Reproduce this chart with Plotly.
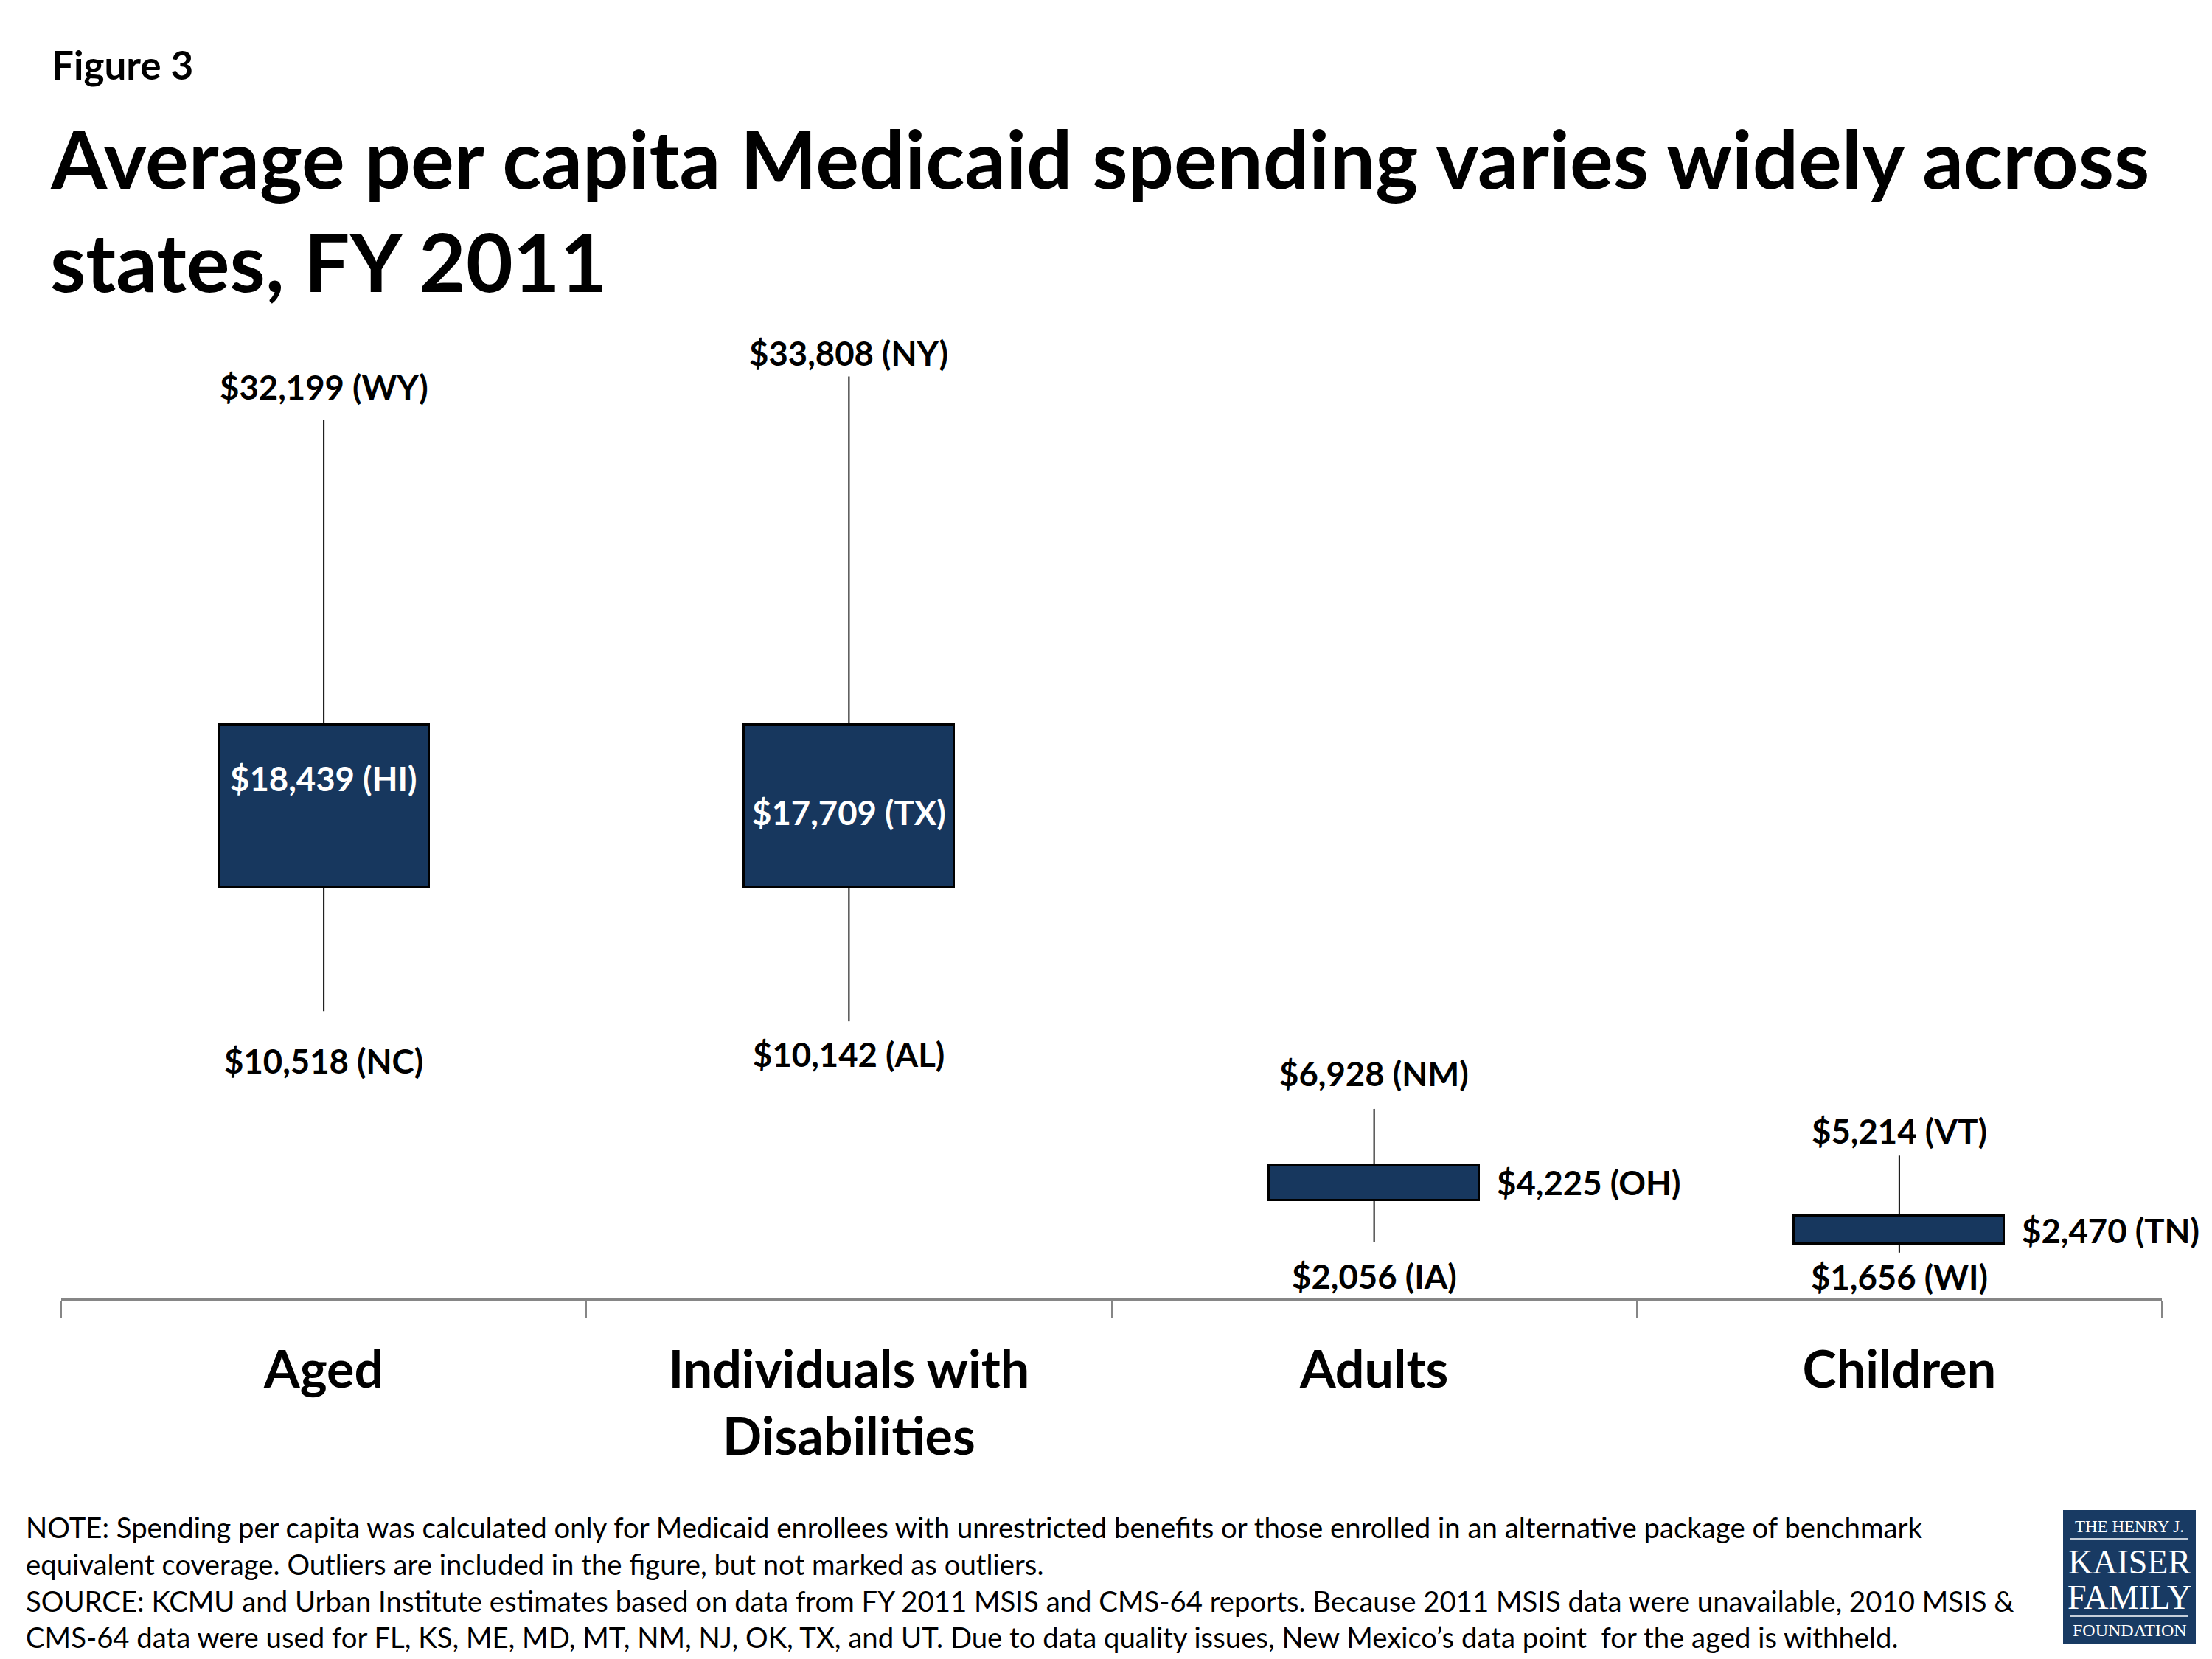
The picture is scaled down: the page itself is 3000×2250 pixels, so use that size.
import plotly.graph_objects as go

# ---------------- data ----------------
categories = ["Aged", "Individuals with<br>Disabilities", "Adults", "Children"]
max_vals = [32199, 33808, 6928, 5214]
max_states = ["WY", "NY", "NM", "VT"]
q3_vals = [21030, 21030, 4830, 3010]
mid_vals = [18439, 17709, 4225, 2470]
mid_states = ["HI", "TX", "OH", "TN"]
q1_vals = [15040, 15040, 3580, 1980]
min_vals = [10518, 10142, 2056, 1656]
min_states = ["NC", "AL", "IA", "WI"]

# ---------------- layout geometry (pixels) ----------------
W, H = 3000, 2250
PL, PR, PT, PB = 75, 2924, 400, 1752
YMAX = 36580
BOX_W = 0.4
NAVY = "#17375E"
FONT = "Lato"
LABEL_SIZE = 45.5


def px_x(px):
    return (px - PL) / (PR - PL)


def px_y(py):
    return (PB - py) / (PB - PT)


def money(v, st):
    return f"${v:,} ({st})"


fig = go.Figure()

# whiskers
wx, wy = [], []
for c, mx, q3, q1, mn in zip(categories, max_vals, q3_vals, q1_vals, min_vals):
    wx += [c, c, None, c, c, None]
    wy += [q3, mx, None, q1, mn, None]
fig.add_trace(go.Scatter(x=wx, y=wy, mode="lines",
                         line=dict(color="black", width=2),
                         hoverinfo="skip", showlegend=False))

# boxes
fig.add_trace(go.Bar(x=categories,
                     base=q1_vals,
                     y=[a - b for a, b in zip(q3_vals, q1_vals)],
                     width=BOX_W,
                     marker=dict(color=NAVY, line=dict(color="black", width=3)),
                     hoverinfo="skip", showlegend=False))

annotations = []
label_font = dict(family=FONT, size=LABEL_SIZE, color="black", weight="bold")

max_shift = [45, 32, 48, 34]
min_shift = [-67, -44, -46, -33]
mid_shift = [23, 4, 0, 0]
mid_inside = [True, True, False, False]

for i, c in enumerate(categories):
    annotations.append(dict(x=c, y=max_vals[i], xref="x", yref="y",
                            text=money(max_vals[i], max_states[i]),
                            showarrow=False, xanchor="center", yanchor="middle",
                            yshift=max_shift[i], font=label_font))
    annotations.append(dict(x=c, y=min_vals[i], xref="x", yref="y",
                            text=money(min_vals[i], min_states[i]),
                            showarrow=False, xanchor="center", yanchor="middle",
                            yshift=min_shift[i], font=label_font))
    if mid_inside[i]:
        annotations.append(dict(x=c, y=mid_vals[i], xref="x", yref="y",
                                text=money(mid_vals[i], mid_states[i]),
                                showarrow=False, xanchor="center", yanchor="middle",
                                yshift=mid_shift[i],
                                font=dict(family=FONT, size=LABEL_SIZE, color="white",
                                          weight="bold")))
    else:
        annotations.append(dict(x=c, y=mid_vals[i], xref="x", yref="y",
                                text=money(mid_vals[i], mid_states[i]),
                                showarrow=False, xanchor="left", yanchor="middle",
                                xshift=164, yshift=mid_shift[i], font=label_font))

# header texts
annotations.append(dict(x=px_x(60), y=px_y(80), xref="paper", yref="paper",
                        text="Figure 3", showarrow=False,
                        xanchor="left", yanchor="middle",
                        font=dict(family=FONT, size=53, color="black", weight="bold")))
annotations.append(dict(x=px_x(58), y=px_y(205), xref="paper", yref="paper",
                        text="Average per capita Medicaid spending varies widely across",
                        showarrow=False, xanchor="left", yanchor="middle",
                        font=dict(family=FONT, size=110, color="black", weight="bold")))
annotations.append(dict(x=px_x(58), y=px_y(345), xref="paper", yref="paper",
                        text="states, FY 2011",
                        showarrow=False, xanchor="left", yanchor="middle",
                        font=dict(family=FONT, size=110, color="black", weight="bold")))

note_text = ("NOTE: Spending per capita was calculated only for Medicaid enrollees with unrestricted benefits or those enrolled in an alternative package of benchmark<br>"
             "equivalent coverage. Outliers are included in the figure, but not marked as outliers.<br>"
             "SOURCE: KCMU and Urban Institute estimates based on data from FY 2011 MSIS and CMS-64 reports. Because 2011 MSIS data were unavailable, 2010 MSIS &amp;<br>"
             "CMS-64 data were used for FL, KS, ME, MD, MT, NM, NJ, OK, TX, and UT. Due to data quality issues, New Mexico’s data point  for the aged is withheld.")
annotations.append(dict(x=px_x(25), y=px_y(2137), xref="paper", yref="paper",
                        text=note_text, showarrow=False, align="left",
                        xanchor="left", yanchor="middle",
                        font=dict(family=FONT, size=38.3, color="black")))

# logo
shapes = [dict(type="rect", xref="paper", yref="paper",
               x0=px_x(2790), x1=px_x(2970), y0=px_y(2221), y1=px_y(2040),
               fillcolor="#183A63", line=dict(width=0), layer="above"),
          dict(type="line", xref="paper", yref="paper",
               x0=px_x(2800), x1=px_x(2960), y0=px_y(2079), y1=px_y(2079),
               line=dict(color="#C5CEDA", width=2), layer="above"),
          dict(type="line", xref="paper", yref="paper",
               x0=px_x(2800), x1=px_x(2960), y0=px_y(2184), y1=px_y(2184),
               line=dict(color="#C5CEDA", width=2), layer="above")]
logo_lines = [("THE HENRY J.", 2062, 23), ("KAISER", 2110, 46),
              ("FAMILY", 2158, 46), ("FOUNDATION", 2203, 24)]
for t, cy, sz in logo_lines:
    annotations.append(dict(x=px_x(2880), y=px_y(cy), xref="paper", yref="paper",
                            text=t, showarrow=False, xanchor="center", yanchor="middle",
                            font=dict(family="Liberation Serif", size=sz, color="white")))

fig.update_layout(
    width=W, height=H,
    margin=dict(l=PL, r=W - PR, t=PT, b=H - PB),
    paper_bgcolor="white", plot_bgcolor="white",
    showlegend=False,
    bargap=0,
    annotations=annotations,
    shapes=shapes,
    xaxis=dict(type="category", categoryorder="array", categoryarray=categories,
               range=[-0.5, len(categories) - 0.5], autorange=False,
               showline=True, linecolor="#868686", linewidth=4,
               ticks="outside", tickson="boundaries", ticklen=23,
               tickwidth=2, tickcolor="#868686",
               ticklabelstandoff=34,
               showgrid=False, zeroline=False,
               tickfont=dict(family=FONT, size=70, color="black", weight="bold"),
               fixedrange=True),
    yaxis=dict(range=[0, YMAX], autorange=False, visible=False, showgrid=False,
               zeroline=False, fixedrange=True),
)

fig.write_html("out.html")
